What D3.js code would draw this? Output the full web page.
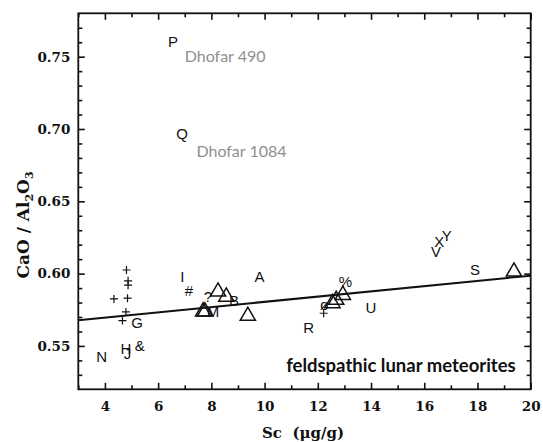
<!DOCTYPE html>
<html>
<head>
<meta charset="utf-8">
<script src="https://cdn.jsdelivr.net/npm/d3@7"></script>
<style>
  html, body { margin: 0; padding: 0; background: #fff; }
  svg { display: block; }
</style>
</head>
<body>
<svg id="chart" width="543" height="442"></svg>
<script>
// Axis ranges and tick values
const xDomain = [3, 20];
const yDomain = [0.52, 0.78];
const xMajorTicks = [4, 6, 8, 10, 12, 14, 16, 18, 20];
const xMinorTicks = [3, 5, 7, 9, 11, 13, 15, 17, 19];
const yMajorTicks = [0.55, 0.60, 0.65, 0.70, 0.75];
const yMinorTicks = [0.53, 0.54, 0.56, 0.57, 0.58, 0.59, 0.61, 0.62, 0.63, 0.64,
                     0.66, 0.67, 0.68, 0.69, 0.71, 0.72, 0.73, 0.74, 0.76, 0.77];

// Samples shown with a single letter or symbol
const labelText = ["A", "B", "G", "H", "I", "J", "M", "N", "P", "Q", "R", "S", "U",
                   "V", "X", "Y", "&", "#", "?", "%", "ø"];
const labelSc   = [9.81, 8.85, 5.21, 4.79, 6.91, 4.85, 8.06, 3.88, 6.56, 6.90, 11.66, 17.91, 14.00,
                   16.44, 16.56, 16.85, 5.31, 7.16, 7.87, 13.04, 12.25];
const labelRatio = [0.598, 0.5813, 0.566, 0.548, 0.598, 0.5445, 0.5737, 0.543, 0.7603, 0.697, 0.5626, 0.6025, 0.5767,
                    0.6152, 0.6221, 0.6262, 0.550, 0.588, 0.584, 0.5944, 0.5783];

// Samples shown with a plus sign
const plusSc    = [4.81, 4.87, 4.87, 4.34, 4.85, 4.79, 4.66, 12.22];
const plusRatio = [0.6025, 0.595, 0.592, 0.5825, 0.583, 0.5735, 0.5675, 0.5726];

// Samples shown with an open triangle
const triSc    = [7.69, 7.76, 8.25, 8.56, 9.37, 12.55, 12.69, 12.94, 19.37];
const triRatio = [0.5737, 0.5737, 0.5875, 0.584, 0.5707, 0.5795, 0.5818, 0.5852, 0.6013];

// Trend line end points
const trendSc    = [3, 20];
const trendRatio = [0.5678, 0.5986];

// Named meteorites
const noteText  = ["Dhofar 490", "Dhofar 1084"];
const noteSc    = [7.0, 7.44];
const noteRatio = [0.7511, 0.685];

const W = 543, H = 442;
const margin = { top: 13.3, right: 12.3, bottom: 52.7, left: 78.3 };
const iw = W - margin.left - margin.right;
const ih = H - margin.top - margin.bottom;

const svg = d3.select("#chart");
const g = svg.append("g").attr("transform", `translate(${margin.left},${margin.top})`);

const x = d3.scaleLinear().domain(xDomain).range([0, iw]);
const y = d3.scaleLinear().domain(yDomain).range([ih, 0]);

const tickFont = "'DejaVu Serif', serif";
const majorLen = 6.5, minorLen = 4;

function styleAxis(sel) {
  sel.select(".domain").remove();
  sel.selectAll(".tick line").attr("stroke", "#111").attr("stroke-width", 1.6);
  sel.selectAll(".tick text")
    .attr("fill", "#111")
    .attr("font-family", tickFont)
    .attr("font-weight", "bold")
    .attr("font-size", 13.5);
}

// Bottom axis
g.append("g").attr("transform", `translate(0,${ih})`)
  .call(d3.axisBottom(x).tickValues(xMajorTicks).tickSizeInner(-majorLen).tickSizeOuter(0)
        .tickPadding(12).tickFormat(d3.format("d")))
  .call(styleAxis);
g.append("g").attr("transform", `translate(0,${ih})`)
  .call(d3.axisBottom(x).tickValues(xMinorTicks).tickSizeInner(-minorLen).tickSizeOuter(0).tickFormat(""))
  .call(styleAxis);
// Top axis (mirror)
g.append("g")
  .call(d3.axisTop(x).tickValues(xMajorTicks).tickSizeInner(-majorLen).tickSizeOuter(0).tickFormat(""))
  .call(styleAxis);
g.append("g")
  .call(d3.axisTop(x).tickValues(xMinorTicks).tickSizeInner(-minorLen).tickSizeOuter(0).tickFormat(""))
  .call(styleAxis);
// Left axis
g.append("g")
  .call(d3.axisLeft(y).tickValues(yMajorTicks).tickSizeInner(-majorLen).tickSizeOuter(0)
        .tickPadding(8).tickFormat(d3.format(".2f")))
  .call(styleAxis);
g.append("g")
  .call(d3.axisLeft(y).tickValues(yMinorTicks).tickSizeInner(-minorLen).tickSizeOuter(0).tickFormat(""))
  .call(styleAxis);
// Right axis (mirror)
g.append("g").attr("transform", `translate(${iw},0)`)
  .call(d3.axisRight(y).tickValues(yMajorTicks).tickSizeInner(-majorLen).tickSizeOuter(0).tickFormat(""))
  .call(styleAxis);
g.append("g").attr("transform", `translate(${iw},0)`)
  .call(d3.axisRight(y).tickValues(yMinorTicks).tickSizeInner(-minorLen).tickSizeOuter(0).tickFormat(""))
  .call(styleAxis);

// Frame
g.append("rect")
  .attr("x", 0).attr("y", 0).attr("width", iw).attr("height", ih)
  .attr("fill", "none").attr("stroke", "#111").attr("stroke-width", 1.8);

// Trend line
g.append("line")
  .attr("x1", x(trendSc[0])).attr("y1", y(trendRatio[0]))
  .attr("x2", x(trendSc[1])).attr("y2", y(trendRatio[1]))
  .attr("stroke", "#111").attr("stroke-width", 2);

// Triangles
const triSize = 100;
g.selectAll("path.tri")
  .data(triSc.map((d, i) => [d, triRatio[i]]))
  .join("path")
  .attr("class", "tri")
  .attr("transform", d => `translate(${x(d[0])},${y(d[1])})`)
  .attr("d", d3.symbol(d3.symbolTriangle, triSize)())
  .attr("fill", "none").attr("stroke", "#111").attr("stroke-width", 1.5);

// Plus signs
const ps = 4;
g.selectAll("path.plus")
  .data(plusSc.map((d, i) => [d, plusRatio[i]]))
  .join("path")
  .attr("class", "plus")
  .attr("transform", d => `translate(${x(d[0])},${y(d[1])})`)
  .attr("d", `M${-ps},0H${ps}M0,${-ps}V${ps}`)
  .attr("stroke", "#111").attr("stroke-width", 1.2);

// Letter / symbol markers
g.selectAll("text.lab")
  .data(labelText.map((t, i) => ({ t, sc: labelSc[i], r: labelRatio[i] })))
  .join("text")
  .attr("class", "lab")
  .attr("x", d => x(d.sc)).attr("y", d => y(d.r))
  .attr("text-anchor", "middle").attr("dominant-baseline", "central")
  .attr("font-family", "'Liberation Sans', Arial, sans-serif")
  .attr("font-size", 15)
  .attr("fill", "#111")
  .text(d => d.t);

// Named meteorites
g.selectAll("text.note")
  .data(noteText.map((t, i) => ({ t, sc: noteSc[i], r: noteRatio[i] })))
  .join("text")
  .attr("class", "note")
  .attr("x", d => x(d.sc)).attr("y", d => y(d.r))
  .attr("dominant-baseline", "central")
  .attr("font-family", "Lato, 'Open Sans', sans-serif")
  .attr("font-size", 16)
  .attr("fill", "#8f8f8f")
  .text(d => d.t);

// Panel title
g.append("text")
  .attr("x", iw - 15).attr("y", ih - 17)
  .attr("text-anchor", "end")
  .attr("font-family", "Lato, 'Open Sans', sans-serif")
  .attr("font-weight", "bold")
  .attr("font-size", 18.5)
  .attr("fill", "#111")
  .text("feldspathic lunar meteorites");

// X axis title
svg.append("text")
  .attr("x", 303).attr("y", 438)
  .attr("text-anchor", "middle")
  .attr("font-family", tickFont).attr("font-weight", "bold").attr("font-size", 15)
  .attr("fill", "#111")
  .attr("xml:space", "preserve")
  .text("Sc  (μg/g)");

// Y axis title with subscripts
const yt = svg.append("text")
  .attr("transform", "translate(29,225) rotate(-90)")
  .attr("text-anchor", "middle")
  .attr("font-family", tickFont).attr("font-weight", "bold").attr("font-size", 17)
  .attr("fill", "#111");
yt.append("tspan").text("CaO / Al");
yt.append("tspan").attr("font-size", 11).attr("dy", 4).text("2");
yt.append("tspan").attr("dy", -4).text("O");
yt.append("tspan").attr("font-size", 11).attr("dy", 4).text("3");
</script>
</body>
</html>
